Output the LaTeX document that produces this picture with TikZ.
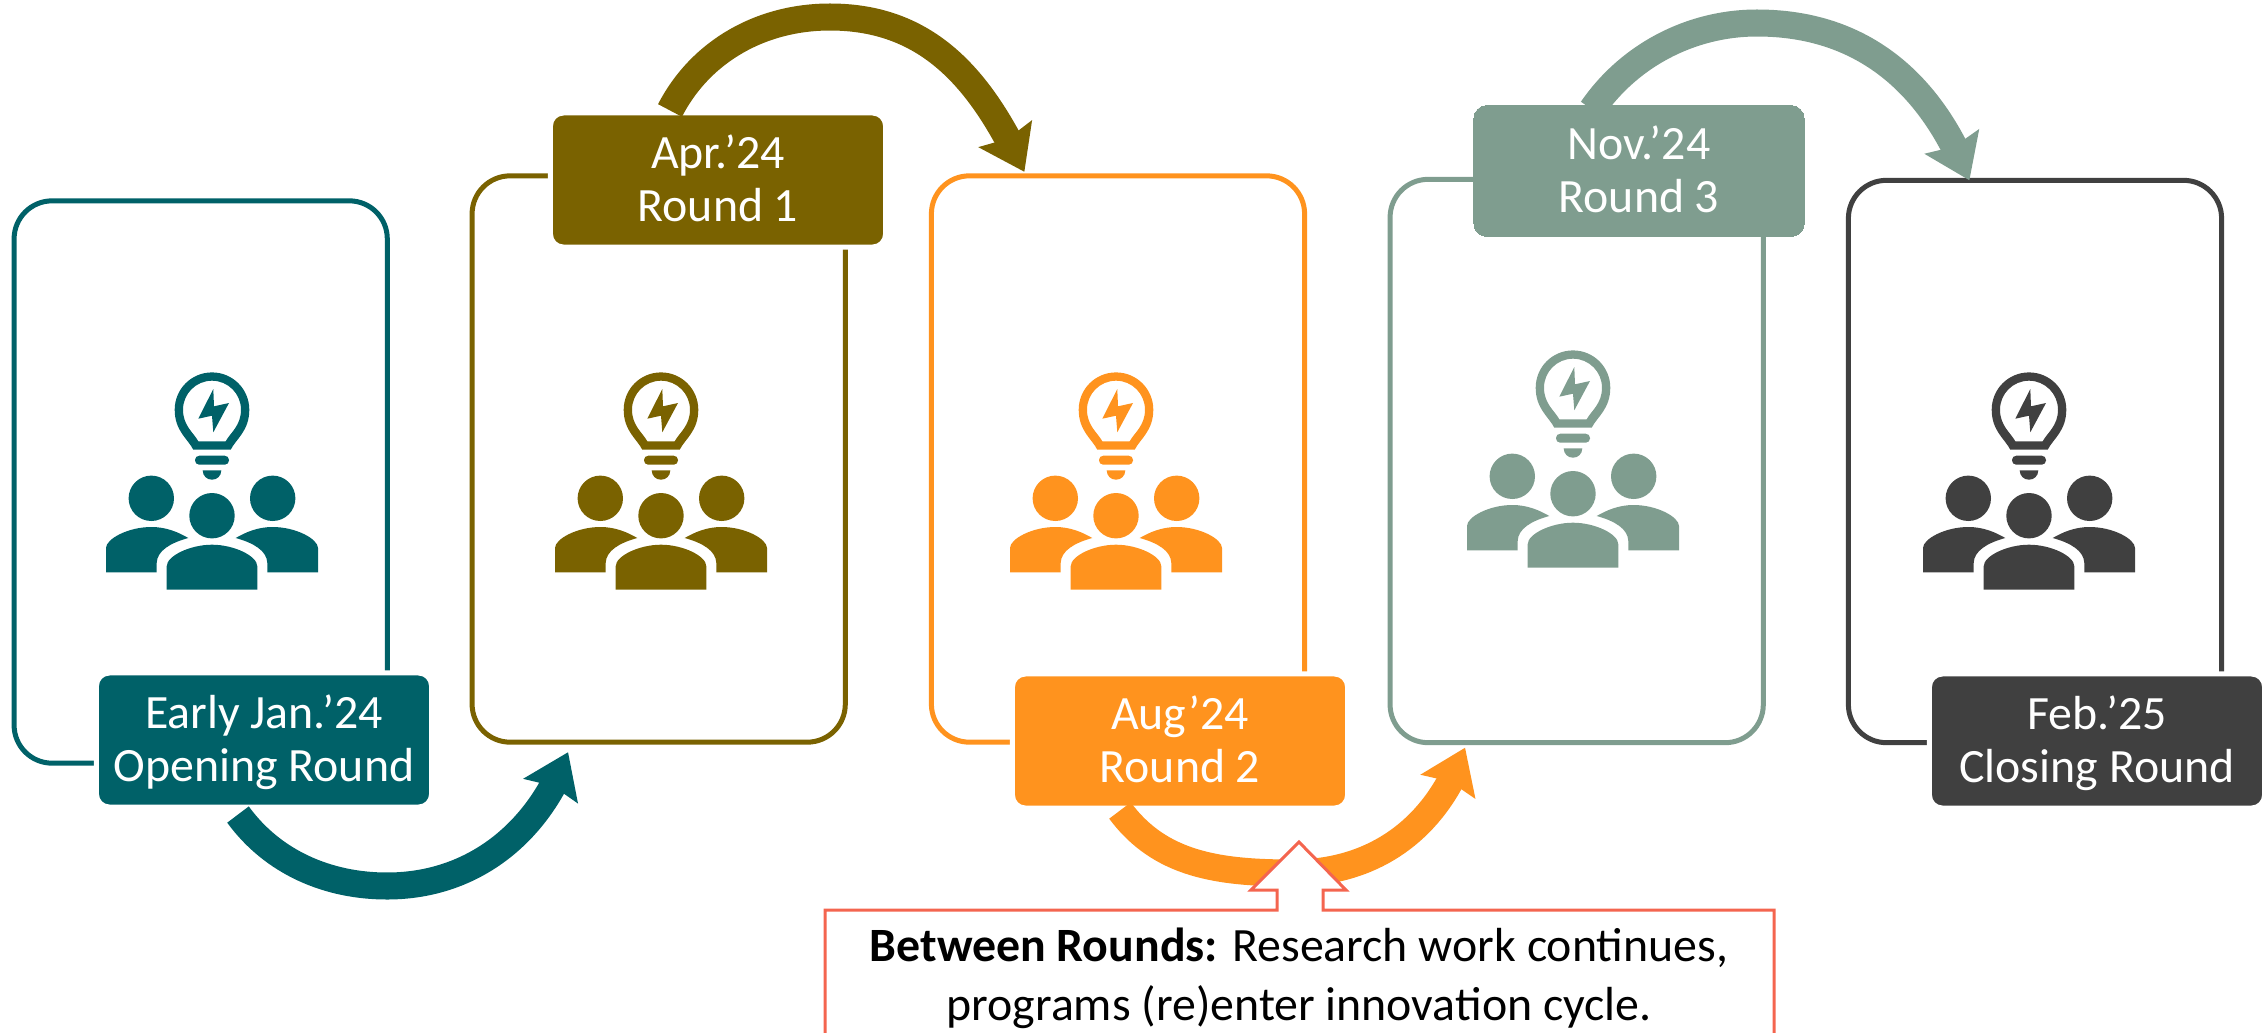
\documentclass[tikz,border=0pt]{standalone}
\usepackage{fontspec}
\usepackage{xcolor}
\usepackage{tikz}
\usetikzlibrary{arrows.meta, bending, positioning, calc}
\setmainfont{Carlito}
\definecolor{tealround}{RGB}{0,97,104}
\definecolor{oliveround}{RGB}{122,98,0}
\definecolor{orangeround}{RGB}{255,147,30}
\definecolor{sageround}{RGB}{127,157,143}
\definecolor{darkround}{RGB}{64,64,64}
\definecolor{noteline}{RGB}{244,101,79}

% Bulb above three people, #1 = position, #2 = colour
\newcommand{\teamicon}[2]{
    \begin{scope}[shift={#1}, fill=#2]
        \fill[even odd rule] (-18.7,-23.3) .. controls (-24,-34) and (-37.3,-42) .. (-37.3,-63.3)
            .. controls (-37.3,-84) and (-20.6,-100.6) .. (0,-100.6)
            .. controls (20.6,-100.6) and (37.3,-84) .. (37.3,-63.3)
            .. controls (37.3,-42) and (24,-34) .. (18.7,-23.3) -- cycle
            (-13.7,-31.7) .. controls (-18,-40) and (-29,-47) .. (-29,-63.3)
            .. controls (-29,-79.3) and (-16,-92.3) .. (0,-92.3)
            .. controls (16,-92.3) and (29,-79.3) .. (29,-63.3)
            .. controls (29,-47) and (18,-40) .. (13.7,-31.7) -- cycle;
        \fill (1.3,-84) -- (-13.7,-54.3) -- (0,-57.3) -- (1.3,-40.7) -- (17,-70) -- (2,-66.7) -- cycle;
        \fill[rounded corners=1.2pt] (-17,-17.3) rectangle (17,-8.3);
        \fill (-9.3,-2.7) -- (9.3,-2.7) .. controls (9.3,3) and (5,6.7) .. (0,6.7) .. controls (-5,6.7) and (-9.3,3) .. (-9.3,-2.7) -- cycle;
        % Heads
        \fill (-60.7,25.3) circle (22.7);
        \fill (60.7,25.3) circle (22.7);
        \fill (0,42.7) circle (22.7);
        % Bodies
        \fill (-106,99.3) -- (-106,75) .. controls (-106,66) and (-84,54) .. (-60.7,54)
            .. controls (-46,54) and (-34,59) .. (-23.7,65)
            .. controls (-42,70) and (-55,78) .. (-55.3,90) -- (-55.3,99.3) -- cycle;
        \fill (106,99.3) -- (106,75) .. controls (106,66) and (84,54) .. (60.7,54)
            .. controls (46,54) and (34,59) .. (23.7,65)
            .. controls (42,70) and (55,78) .. (55.3,90) -- (55.3,99.3) -- cycle;
        \fill (-45.3,116.7) -- (-45.3,93.3) .. controls (-45.3,83) and (-22,71.7) .. (0,71.7)
            .. controls (22,71.7) and (45.3,83) .. (45.3,93.3) -- (45.3,116.7) -- cycle;
    \end{scope}
}

\begin{document}
\begin{tikzpicture}[x=0.01cm, y=-0.01cm,
    card/.style={rectangle, draw=#1, line width=0.05cm, minimum width=3.73cm, rounded corners=0.38cm, outer sep=0pt},
    tagbox/.style={rectangle, fill=#1, draw=white, line width=0.05cm, minimum width=3.35cm, minimum height=1.34cm, rounded corners=0.13cm, align=center, text=white, font=\fontsize{13.6}{15.2}\selectfont, text height=23.6pt, text depth=0pt},
    flow/.style={-{Stealth[width=0.58cm, length=0.42cm, inset=0.05cm]}, line width=0.27cm, draw=#1},
    callout/.style={draw=noteline, fill=white, line width=0.03cm},
    note/.style={align=center, font=\fontsize{13.6}{16.8}\selectfont}
]
    \useasboundingbox (0,0) rectangle (2265,1033);

    % Cards
    \node[card=tealround, minimum height=5.62cm] (card1) at (200.7,482) {};
    \node[card=oliveround, minimum height=5.66cm] (card2) at (658.7,459) {};
    \node[card=orangeround, minimum height=5.66cm] (card3) at (1118,459) {};
    \node[card=sageround, minimum height=5.63cm] (card4) at (1576.7,461) {};
    \node[card=darkround, minimum height=5.62cm] (card5) at (2035,461.5) {};

    % Date labels
    \node[tagbox=tealround] (tag1) at (264,740) {Early Jan.’24\\Opening Round};
    \node[tagbox=oliveround] (tag2) at (718,180) {Apr.’24\\Round 1};
    \node[tagbox=orangeround] (tag3) at (1180,741) {Aug’24\\Round 2};
    \node[tagbox=sageround, draw=sageround, line width=0pt, minimum width=3.30cm, minimum height=1.31cm] (tag4) at (1639,171) {Nov.’24\\Round 3};
    \node[tagbox=darkround] (tag5) at (2097,741) {Feb.’25\\Closing Round};

    % Lowest or highest point of each arrow
    \coordinate (turn1) at (387,886);
    \coordinate (turn2) at (830,17);
    \coordinate (turn3) at (1293,873);
    \coordinate (turn4) at (1757,23);

    % Arrows
    \draw[flow=tealround] ([shift={(-26,5)}]tag1.south) .. controls +(35,48) and +(-59,0) .. (turn1) .. controls +(88,0) and +(-28,78) .. ([shift={(96,10)}]card2.south west);
    \draw[flow=oliveround] ([shift={(-48,0)}]tag2.north) .. controls +(31,-60) and +(-68,0) .. (turn2) .. controls +(100,0) and +(-42,-90) .. ([shift={(93,-4)}]card3.north west);
    \draw[flow=orangeround] ([shift={(-60,0)}]tag3.south) .. controls +(40,54) and +(-75,0) .. (turn3) .. controls +(84,0) and +(-27,78) .. ([shift={(75,5)}]card4.south west);
    \draw[flow=sageround] ([shift={(-47,4)}]tag4.north) .. controls +(37,-54) and +(-66,0) .. (turn4) .. controls +(110,0) and +(-36,-92) .. ([shift={(121,0)}]card5.north west);

    % Between rounds note
    \path[callout] (825,1033) -- (825,910) -- (1277,910) -- (1277,890) -- (1251,890) -- (1299,842) -- (1346,890) -- (1323,890) -- (1323,910) -- (1774,910) -- (1774,1033);
    \node[note] (note) at (1299,978) {\textbf{Between Rounds:} Research work continues,\\programs (re)enter innovation cycle.};

    % Icons
    \teamicon{(212,473)}{tealround}
    \teamicon{(661,473)}{oliveround}
    \teamicon{(1116,473)}{orangeround}
    \teamicon{(1573,451)}{sageround}
    \teamicon{(2029,473)}{darkround}
\end{tikzpicture}
\end{document}
